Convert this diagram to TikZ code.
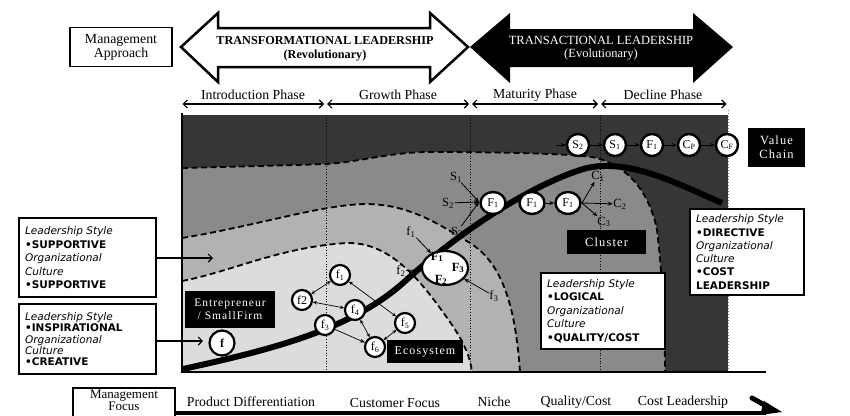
\documentclass[tikz,border=0pt]{standalone}
\usepackage{fontspec}
\setmainfont{Liberation Serif}
\newfontfamily\lsfont{DejaVu Sans}
\newfontfamily\spfont[LetterSpace=9]{Liberation Serif}
\usetikzlibrary{arrows.meta,shapes.geometric}
\definecolor{darkg}{HTML}{363636}
\definecolor{midg}{HTML}{8A8A8A}
\definecolor{lightg}{HTML}{B2B2B2}
\definecolor{paleg}{HTML}{DCDCDC}
\newcommand\sbs[1]{\textsubscript{#1}}
\tikzset{
  lab/.style={font=\fontsize{13.8}{14}\selectfont, inner sep=1pt},
  smlab/.style={font=\fontsize{12.5}{13}\selectfont, inner sep=0.5pt},
  vc/.style={circle, draw, fill=white, line width=2.4pt, minimum size=22pt, inner sep=0pt, font=\fontsize{12}{12}\selectfont},
  fr/.style={ellipse, draw, fill=white, line width=2.4pt, minimum width=25pt, minimum height=22pt, inner sep=0pt, font=\fontsize{12}{12}\selectfont},
  eco/.style={circle, draw, fill=white, line width=2.2pt, minimum size=20pt, inner sep=0pt, font=\fontsize{12}{12}\selectfont},
  bbox/.style={fill=black, text=white, inner sep=0pt, align=center},
  lbox/.style={draw, line width=2.2pt, fill=white, anchor=north west, align=left, inner xsep=5pt, inner ysep=2pt},
  arr/.style={-{Stealth[length=5pt,width=4pt]}, line width=0.8pt},
  darr/.style={{Stealth[length=4pt,width=3.5pt]}-{Stealth[length=4pt,width=3.5pt]}, line width=0.7pt},
  barb/.style={-{Straight Barb[length=4pt,width=8pt]}, line width=1.1pt},
  phase/.style={{Straight Barb[length=4pt,width=8pt]}-{Straight Barb[length=4pt,width=8pt]}, line width=1.2pt},
  bound/.style={dash pattern=on 6pt off 3.5pt, line width=1.8pt},
  vdot/.style={dotted, line width=0.7pt},
}
\def\bcurve{(182,168) .. controls (260,166) and (300,165) .. (326,164) .. controls (360,162) and (390,152) .. (430,152) .. controls (480,152) and (560,153) .. (592,157) .. controls (630,165) and (650,195) .. (657,230) .. controls (662,270) and (665,330) .. (665,372)}
\def\ccurve{(182,238) .. controls (260,225) and (320,205) .. (365,204) .. controls (410,204) and (440,225) .. (470,243) .. controls (500,262) and (515,300) .. (520,372)}
\def\dcurve{(182,281) .. controls (230,272) and (280,247) .. (347,243) .. controls (390,242) and (420,280) .. (445,315) .. controls (462,338) and (470,355) .. (472,372)}
\begin{document}
\begin{tikzpicture}[x=1pt,y=-1pt]
\useasboundingbox (0,0) rectangle (850,415);
\fill[white] (0,0) rectangle (850,415);

% ---------- top management approach ----------
\node[draw, line width=1.8pt, minimum width=102pt, minimum height=39pt, align=center, font=\fontsize{13.8}{14}\selectfont, inner sep=0pt] (ma) at (121,47) {Management\\Approach};

\draw[line width=2.5pt, fill=white, line join=miter] (181,47) -- (218,13) -- (218,28) -- (430,28) -- (430,13) -- (468,47) -- (430,82) -- (430,67) -- (218,67) -- (218,82) -- cycle;
\fill[black] (470,47) -- (510,13) -- (510,29) -- (693,29) -- (693,13) -- (733,47) -- (693,83) -- (693,67) -- (510,67) -- (510,83) -- cycle;
\node[font=\bfseries\fontsize{12.2}{14}\selectfont, align=center, inner sep=0pt] (tl) at (325,48.5) {TRANSFORMATIONAL LEADERSHIP\\(Revolutionary)};
\node[text=white, font=\fontsize{12.5}{13.5}\selectfont, align=center, inner sep=0pt] (tr) at (601,48) {TRANSACTIONAL LEADERSHIP\\(Evolutionary)};

% ---------- phases ----------
\coordinate (p0) at (182,104);
\coordinate (p1) at (325.5,104);
\coordinate (p2) at (470.5,104);
\coordinate (p3) at (599.5,104);
\coordinate (p4) at (727,104);
\draw[phase, shorten <=0.5pt, shorten >=1.5pt] (p0) -- (p1);
\draw[phase, shorten <=1.5pt, shorten >=1.5pt] (p1) -- (p2);
\draw[phase, shorten <=1.5pt, shorten >=1.5pt] (p2) -- (p3);
\draw[phase, shorten <=1.5pt, shorten >=0.5pt] (p3) -- (p4);
\node[lab] (ph1) at (253,95) {Introduction Phase};
\node[lab] (ph2) at (398,95) {Growth Phase};
\node[lab] (ph3) at (535,95) {Maturity Phase};
\node[lab] (ph4) at (663,95) {Decline Phase};

% ---------- plot regions ----------
\fill[darkg] (182,115) rectangle (728,372);
\fill[midg] \bcurve -- (182,372) -- cycle;
\fill[lightg] \ccurve -- (182,372) -- cycle;
\fill[paleg] \dcurve -- (182,372) -- cycle;
\draw[bound] \bcurve;
\draw[bound] \ccurve;
\draw[bound] \dcurve;
\draw[vdot] (326,115) -- (326,372);
\draw[vdot] (470,115) -- (470,372);
\draw[vdot] (600,115) -- (600,372);
\draw[dotted, line width=1pt, gray] (728,110) -- (728,372);
\draw[line width=2.5pt] (182,113) -- (182,373);
\draw[line width=2.5pt] (181,372) -- (766,372);

% main life-cycle curve
\draw[line width=6pt] (183,369) .. controls (270,350) and (350,330) .. (403,283) .. controls (450,240) and (520,190) .. (580,170) .. controls (625,155) and (680,185) .. (722,203);

% ---------- value chain ----------
\coordinate (vin) at (556,145);
\node[vc] (vs2) at (578,145) {S\sbs{2}};
\node[vc] (vs1) at (615,145) {S\sbs{1}};
\node[vc] (vf1) at (652,145) {F\sbs{1}};
\node[vc] (vcp) at (689,145) {C\sbs{P}};
\node[vc] (vcf) at (727,145) {C\sbs{F}};
\draw[arr] (vin) -- (vs2);
\draw[arr] (vs2) -- (vs1);
\draw[arr] (vs1) -- (vf1);
\draw[arr] (vf1) -- (vcp);
\draw[arr] (vcp) -- (vcf);
\node[bbox, minimum width=57pt, minimum height=39pt, font=\spfont\fontsize{12.5}{14}\selectfont] (vcbox) at (776.5,147.5) {Value\\Chain};

% ---------- cluster ----------
\node[fr] (fa) at (493,203) {F\sbs{1}};
\node[fr] (fb) at (532,203) {F\sbs{1}};
\node[fr] (fc) at (568,203) {F\sbs{1}};
\draw[arr] (fb) -- (fc);
\node[smlab] (s1) at (456,177) {S\sbs{1}};
\node[smlab] (s2) at (448,203) {S\sbs{2}};
\node[smlab] (s3) at (457,232) {S\sbs{3}};
\coordinate (sc) at (479,202);
\draw[arr] (s1) -- (sc);
\draw[arr] (s2) -- (sc);
\draw[arr] (s3) -- (sc);
\coordinate (cs) at (582,203);
\node[smlab] (c1) at (598,176) {C\sbs{1}};
\node[smlab] (c2) at (620,204) {C\sbs{2}};
\node[smlab] (c3) at (604,222) {C\sbs{3}};
\draw[arr] (cs) -- (c1);
\draw[arr] (cs) -- (c2);
\draw[arr] (cs) -- (c3);
\node[bbox, minimum width=79pt, minimum height=24pt, font=\spfont\fontsize{12.5}{13}\selectfont] (clbox) at (606.5,242) {Cluster};

% ---------- big F circle ----------
\node[ellipse, draw, fill=white, line width=2.2pt, minimum width=46pt, minimum height=34pt] (bigF) at (445,268) {};
\node[font=\bfseries\fontsize{12.5}{13}\selectfont, inner sep=0pt] (tF1) at (437,257) {F\sbs{1}};
\node[font=\bfseries\fontsize{12.5}{13}\selectfont, inner sep=0pt] (tF3) at (458,268) {F\sbs{3}};
\node[font=\bfseries\fontsize{12.5}{13}\selectfont, inner sep=0pt] (tF2) at (441,280) {F\sbs{2}};
\node[smlab] (lf1) at (411,232) {f\sbs{1}};
\node[smlab] (lf2) at (401,271) {f\sbs{2}};
\node[smlab] (lf3) at (494,296) {f\sbs{3}};
\draw[arr] (lf1) -- (bigF);
\draw[arr] (lf2) -- (bigF);
\draw[arr] (lf3) -- (bigF);

% ---------- ecosystem ----------
\node[eco] (e1) at (340,275) {f\sbs{1}};
\node[eco] (e2) at (302,300) {f2};
\node[eco] (e4) at (355,310) {f\sbs{4}};
\node[eco] (e3) at (325,325) {f\sbs{3}};
\node[eco] (e5) at (405,323) {f\sbs{5}};
\node[eco] (e6) at (375,347) {f\sbs{6}};
\draw[darr] (e1) -- (e2);
\draw[darr] (e2) -- (e4);
\draw[darr] (e1) -- (e5);
\draw[arr, line width=0.7pt] (e3) -- (e6);
\draw[darr] (e4) -- (e6);
\draw[darr] (e5) -- (e6);
\node[bbox, minimum width=76pt, minimum height=23pt, font=\spfont\fontsize{12}{13}\selectfont] (ecobox) at (425,351.5) {Ecosystem};

% ---------- entrepreneur ----------
\node[bbox, minimum width=90pt, minimum height=37pt, font=\spfont\fontsize{11.5}{13}\selectfont] (entbox) at (230,309.5) {Entrepreneur\\/ SmallFirm};
\node[circle, draw, fill=white, line width=2.2pt, minimum size=25pt, inner sep=0pt, font=\bfseries\fontsize{12}{12}\selectfont] (fs) at (222,343) {f};

% ---------- leadership boxes ----------
\node[lbox, minimum width=137pt, minimum height=79pt, text width=125pt, font=\lsfont\fontsize{10.5}{13.5}\selectfont] (lb1) at (18,217)
 {\textit{Leadership Style}\\\textbf{•SUPPORTIVE}\\\textit{Organizational}\\\textit{Culture}\\\textbf{•SUPPORTIVE}};
\node[lbox, minimum width=137pt, minimum height=70pt, text width=125pt, font=\lsfont\fontsize{10.5}{11.3}\selectfont] (lb2) at (18,303)
 {\textit{Leadership Style}\\\textbf{•INSPIRATIONAL}\\\textit{Organizational}\\\textit{Culture}\\\textbf{•CREATIVE}};
\node[lbox, minimum width=124pt, minimum height=76pt, text width=112pt, font=\lsfont\fontsize{10.5}{13.6}\selectfont] (lb3) at (540,272)
 {\textit{Leadership Style}\\\textbf{•LOGICAL}\\\textit{Organizational}\\\textit{Culture}\\\textbf{•QUALITY/COST}};
\node[lbox, minimum width=114pt, minimum height=86pt, text width=102pt, font=\lsfont\fontsize{10.5}{13.3}\selectfont] (lb4) at (689,208)
 {\textit{Leadership Style}\\\textbf{•DIRECTIVE}\\\textit{Organizational}\\\textit{Culture}\\\textbf{•COST}\\\textbf{LEADERSHIP}};
\coordinate (a1) at (213,258);
\coordinate (a2) at (203,341);
\draw[barb] (lb1.east |- a1) -- (a1);
\draw[barb] (lb2.east |- a2) -- (a2);

% ---------- management focus ----------
\draw[line width=2.5pt] (73,420) -- (73,388) -- (175,388) -- (175,420);
\node[align=center, font=\fontsize{13}{11.5}\selectfont, inner sep=0pt] (mf) at (124,400.5) {Management\\Focus};
\coordinate (bar0) at (175,413);
\coordinate (barend) at (766,413);
\draw[line width=4pt] (bar0) -- (barend);
\draw[line width=5pt, line cap=round] (752,398) -- (768,407);
\fill (764,401) -- (782,412) -- (760,415) -- cycle;
\node[lab] (b1) at (251,402) {Product Differentiation};
\node[lab] (b2) at (395,403) {Customer Focus};
\node[lab] (b3) at (494,402) {Niche};
\node[lab] (b4) at (576,402) {Quality/Cost};
\node[lab] (b5) at (683,402) {Cost Leadership};
\end{tikzpicture}
\end{document}
